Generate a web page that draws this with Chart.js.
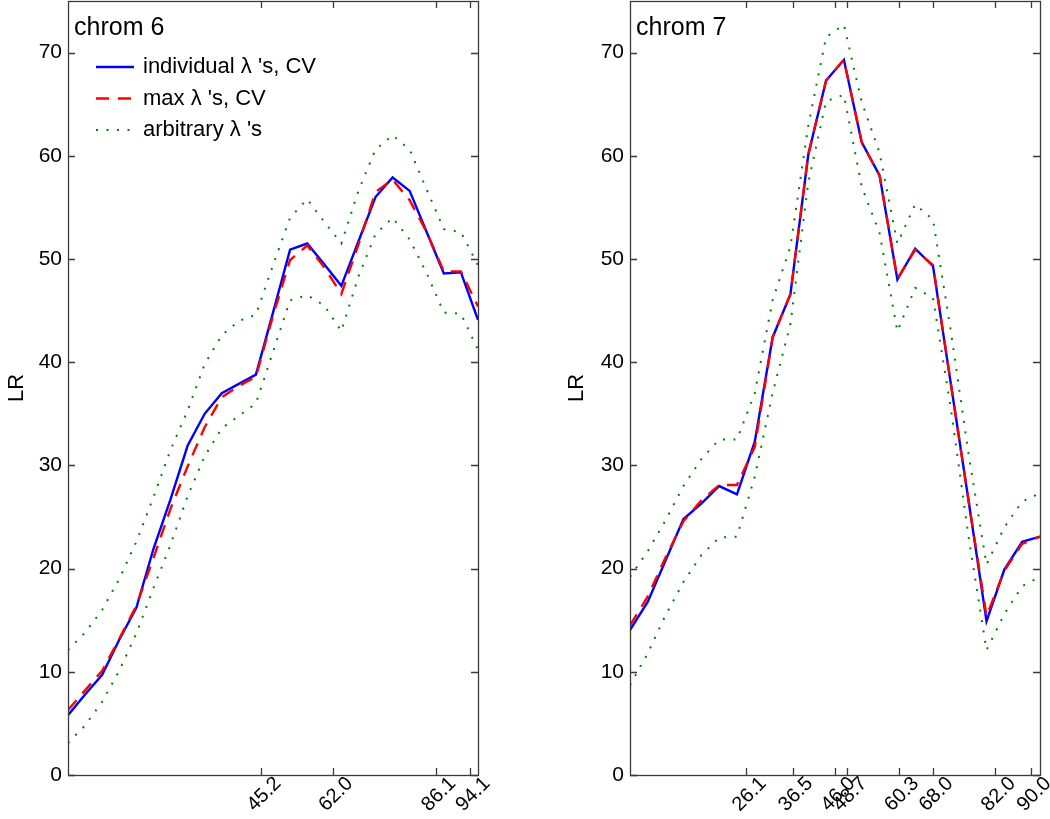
<!DOCTYPE html>
<html>
<head>
<meta charset="utf-8">
<script src="https://cdn.jsdelivr.net/npm/chart.js@4.4.1/dist/chart.umd.min.js"></script>
<style>
  html, body { margin: 0; padding: 0; background: #fff; }
  #wrap { position: relative; width: 1050px; height: 819px; overflow: hidden; }
  canvas { position: absolute; top: 0; }
  #c6 { left: 0; }
  #c7 { left: 560px; }
</style>
</head>
<body>
<div id="wrap">
  <canvas id="c6" width="490" height="819"></canvas>
  <canvas id="c7" width="490" height="819"></canvas>
</div>
<script>
// --- DATA ---
// chrom 6: marker positions and LR curves
const pos6 = [0, 4, 8, 12, 16, 20, 24, 28, 32, 36, 40, 44, 48, 52, 56, 60, 64, 68, 72, 76, 80, 84, 88, 92, 96];
const indiv6 = [5.8, 7.8, 9.7, 13.1, 16.2, 21.9, 26.7, 31.9, 35.0, 37.0, 37.9, 38.8, 44.8, 50.9, 51.5, 49.5, 47.4, 51.7, 56.0, 57.9, 56.6, 52.6, 48.6, 48.7, 44.1];
const max6 = [6.3, 8.2, 10.1, 13.2, 16.4, 21.0, 25.8, 29.9, 33.7, 36.6, 37.7, 38.6, 44.5, 49.9, 51.3, 49.2, 46.6, 51.4, 56.5, 57.7, 55.7, 52.6, 48.8, 48.8, 45.4];
const arbHi6 = [12.1, 13.8, 16.0, 19.0, 22.6, 26.9, 31.5, 35.3, 39.8, 42.6, 44.0, 44.6, 49.4, 54.0, 55.8, 53.6, 51.5, 56.6, 60.6, 62.0, 60.6, 56.7, 52.9, 52.6, 49.4];
const arbLo6 = [3.1, 4.8, 7.1, 10.1, 13.7, 18.1, 22.3, 27.0, 30.9, 33.6, 34.8, 36.0, 41.0, 46.0, 46.5, 45.5, 43.0, 48.3, 52.4, 54.0, 51.9, 48.6, 44.8, 44.7, 41.2];
const xTicks6 = [45.2, 62.0, 86.1, 94.1];
const xMax6 = 96;

// chrom 7
const pos7 = [0, 4, 8, 12, 16, 20, 24, 28, 32, 36, 40, 44, 48, 52, 56, 60, 64, 68, 72, 76, 80, 84, 88, 92];
const indiv7 = [14.05, 16.8, 20.8, 24.8, 26.3, 28.0, 27.2, 32.3, 42.4, 46.6, 60.1, 67.3, 69.3, 61.3, 58.1, 48.0, 51.0, 49.3, 37.9, 26.5, 14.9, 19.9, 22.6, 23.1];
const max7 = [14.5, 17.3, 21.1, 24.6, 26.6, 28.1, 28.1, 31.8, 42.4, 46.6, 60.1, 67.3, 69.3, 61.3, 58.1, 48.1, 50.9, 49.4, 37.9, 26.5, 15.4, 19.8, 22.4, 23.1];
const arbHi7 = [19.2, 21.7, 24.7, 28.0, 30.6, 32.5, 32.5, 37.0, 46.0, 51.2, 62.9, 71.5, 72.7, 65.2, 60.3, 51.5, 55.3, 53.8, 43.0, 31.0, 20.4, 24.0, 26.5, 27.3];
const arbLo7 = [8.7, 11.8, 15.5, 18.7, 21.3, 23.0, 23.1, 28.9, 37.0, 43.7, 57.4, 65.3, 65.9, 57.0, 52.5, 43.0, 47.2, 46.2, 35.5, 23.0, 12.1, 15.6, 18.3, 19.2];
const xTicks7 = [26.1, 36.5, 46.0, 48.7, 60.3, 68.0, 82.0, 90.0];
const xMax7 = 92;

const yTicks = [0, 10, 20, 30, 40, 50, 60, 70];
const yMax = 75;
const legendLabels = ["individual \u03bb 's, CV", "max \u03bb 's, CV", "arbitrary \u03bb 's"];

// --- STYLE ---
const FONT = '"Liberation Sans", Arial, Helvetica, sans-serif';
Chart.defaults.font.family = FONT;
Chart.defaults.color = '#000';

function pts(xs, ys) { return xs.map((x, i) => ({ x: x, y: ys[i] })); }

// MATLAB-like box with inward ticks on all four sides
const boxPlugin = {
  id: 'matlabBox',
  afterDatasetsDraw(chart) {
    const { ctx, chartArea: a, scales } = chart;
    const tl = 7;
    ctx.save();
    ctx.strokeStyle = '#3a3a3a';
    ctx.lineWidth = 1.3;
    ctx.beginPath();
    scales.x.ticks.forEach(t => {
      const px = Math.round(scales.x.getPixelForValue(t.value)) + 0.5;
      ctx.moveTo(px, a.bottom); ctx.lineTo(px, a.bottom - tl);
      ctx.moveTo(px, a.top); ctx.lineTo(px, a.top + tl);
    });
    scales.y.ticks.forEach(t => {
      const py = Math.round(scales.y.getPixelForValue(t.value)) + 0.5;
      ctx.moveTo(a.left, py); ctx.lineTo(a.left + tl, py);
      ctx.moveTo(a.right, py); ctx.lineTo(a.right - tl, py);
    });
    ctx.stroke();
    ctx.strokeRect(a.left + 0.5, a.top + 0.5, a.width, a.height);
    ctx.restore();
  }
};

// panel title + in-axes legend
const panelPlugin = {
  id: 'panel',
  afterDraw(chart, args, opts) {
    const { ctx, chartArea: a } = chart;
    ctx.save();
    ctx.fillStyle = '#000';
    ctx.font = '25px ' + FONT;
    ctx.textBaseline = 'alphabetic';
    ctx.fillText(opts.title, a.left + 6, 35);
    if (opts.legend) {
      ctx.font = '22px ' + FONT;
      ctx.textBaseline = 'middle';
      opts.legend.forEach((label, i) => {
        const ds = chart.data.datasets[i];
        const y = 67 + i * 31.5;
        ctx.beginPath();
        ctx.strokeStyle = ds.borderColor;
        ctx.lineWidth = ds.borderWidth;
        ctx.setLineDash(ds.borderDash || []);
        ctx.moveTo(a.left + 28, y);
        ctx.lineTo(a.left + 66, y);
        ctx.stroke();
        ctx.setLineDash([]);
        ctx.fillText(label, a.left + 75, y);
      });
    }
    ctx.restore();
  }
};

function makeDatasets(xs, indiv, mx, hi, lo) {
  const base = { pointRadius: 0, tension: 0, fill: false, borderCapStyle: 'butt' };
  return [
    Object.assign({ label: legendLabels[0], data: pts(xs, indiv), borderColor: '#0000ff', borderWidth: 2.4, order: 1 }, base),
    Object.assign({ label: legendLabels[1], data: pts(xs, mx), borderColor: '#ff0000', borderWidth: 2.4, borderDash: [13, 9], order: 0 }, base),
    Object.assign({ label: legendLabels[2], data: pts(xs, hi), borderColor: '#008000', borderWidth: 2, borderDash: [2, 8.5], order: 2 }, base),
    Object.assign({ label: 'arbitrary lower', data: pts(xs, lo), borderColor: '#008000', borderWidth: 2, borderDash: [2, 8.5], order: 2 }, base)
  ];
}

function noPad(s) { s.paddingTop = 0; s.paddingBottom = 0; s.paddingLeft = 0; s.paddingRight = 0; }

function makeChart(id, datasets, xTicks, xMax, yAxisW, padRight, title, legend) {
  return new Chart(document.getElementById(id), {
    type: 'line',
    data: { datasets: datasets },
    options: {
      responsive: false,
      animation: false,
      layout: { padding: { top: 1, right: padRight, left: 0, bottom: 0 } },
      plugins: {
        legend: { display: false },
        tooltip: { enabled: false },
        panel: { title: title, legend: legend }
      },
      scales: {
        x: {
          type: 'linear', min: 0, max: xMax,
          grid: { display: false, drawTicks: false },
          border: { display: false },
          afterBuildTicks: s => { s.ticks = xTicks.map(v => ({ value: v })); },
          afterFit: s => { s.height = 44; noPad(s); },
          ticks: {
            autoSkip: false, minRotation: 45, maxRotation: 45, padding: -3, labelOffset: 17,
            font: { size: 20 },
            callback: v => Number(v).toFixed(1)
          }
        },
        y: {
          min: 0, max: yMax,
          grid: { display: false, drawTicks: false },
          border: { display: false },
          afterBuildTicks: s => { s.ticks = yTicks.map(v => ({ value: v })); },
          afterFit: s => { s.width = yAxisW; noPad(s); },
          ticks: { padding: 6, font: { size: 21 } },
          title: { display: true, text: 'LR', font: { size: 22 }, padding: { top: 4, bottom: 4 } }
        }
      }
    },
    plugins: [boxPlugin, panelPlugin]
  });
}

makeChart('c6', makeDatasets(pos6, indiv6, max6, arbHi6, arbLo6), xTicks6, xMax6, 68, 12, 'chrom 6', legendLabels);
makeChart('c7', makeDatasets(pos7, indiv7, max7, arbHi7, arbLo7), xTicks7, xMax7, 70, 10, 'chrom 7', null);
</script>
</body>
</html>
